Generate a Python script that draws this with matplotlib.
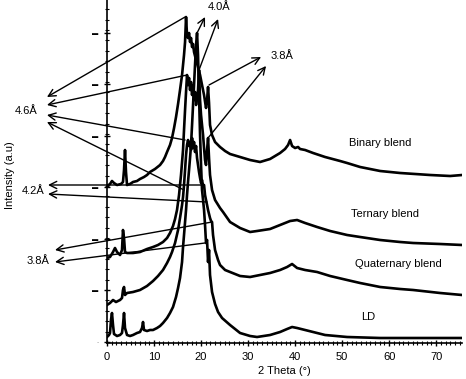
import matplotlib.pyplot as plt
from matplotlib.ticker import FixedLocator, MultipleLocator, AutoMinorLocator

plt.rcParams['font.family'] = ['Liberation Sans', 'DejaVu Sans']

# XRD traces: 2 theta (deg) and intensity (a.u., stacked)
binary_x = [0, 0.64, 1.06, 1.49, 2.13, 2.98, 3.40, 3.62, 3.83, 4.04, 4.26, 4.89, 5.53, 6.38, 7.02,
            7.87, 8.51, 9.15, 10.21, 11.28, 11.91, 12.34, 12.77, 13.40, 13.83, 14.26, 14.68, 15.11,
            15.53, 15.96, 16.17, 16.38, 16.60, 16.81, 17.02, 17.23, 17.45, 17.66, 17.87, 18.09,
            18.30, 18.51, 18.94, 19.36, 19.79, 20.21, 20.64, 21.06, 21.28, 21.49, 21.70, 21.91,
            22.34, 22.98, 24.04, 25.11, 26.17, 28.30, 30.43, 32.55, 34.68, 36.81, 37.87, 38.51,
            38.94, 39.36, 40.00, 40.64, 41.06, 42.13, 43.83, 46.38, 49.57, 51.06, 53.83, 58.09,
            62.34, 68.72, 72.98, 75.53]
binary_y = [157, 159, 162, 160, 158, 159, 161, 173, 193, 171, 158, 159, 161, 162, 164,
            166, 168, 171, 174, 178, 182, 186, 191, 198, 205, 215, 226, 239,
            253, 268, 278, 288, 301, 326, 308, 305, 310, 301, 305, 296,
            299, 291, 283, 276, 268, 258, 248, 235, 243, 256, 240, 218,
            208, 201, 196, 192, 189, 186, 183, 181, 184, 190, 194, 198,
            203, 197, 195, 196, 194, 193, 190, 186, 182, 180, 176, 172,
            170, 168, 167, 168]

ternary_x = [0, 0.64, 1.28, 1.70, 2.13, 2.77, 3.19, 3.40, 3.62, 3.83, 4.26, 5.53, 7.02, 8.51, 9.79,
             10.85, 11.91, 12.77, 13.40, 14.04, 14.47, 14.89, 15.32, 15.74, 16.17, 16.38, 16.60,
             16.81, 17.02, 17.23, 17.45, 17.66, 17.87, 18.09, 18.30, 18.51, 18.72, 18.94, 19.15,
             19.36, 19.57, 19.79, 20.00, 20.21, 20.43, 20.64, 20.85, 21.06, 21.28, 21.49, 21.70,
             21.91, 22.34, 22.98, 24.04, 24.68, 26.17, 28.30, 30.43, 31.91, 34.68, 36.81, 38.94,
             40.43, 42.13, 44.68, 47.45, 51.06, 53.83, 58.09, 62.34, 65.11, 70.85, 75.53]
ternary_y = [85, 86, 91, 95, 91, 88, 93, 113, 105, 91, 90, 90, 91, 94, 96,
             98, 101, 105, 110, 117, 124, 133, 148, 168, 193, 213, 233,
             251, 268, 258, 265, 253, 261, 248, 258, 243, 251, 238, 245,
             253, 273, 243, 228, 218, 208, 195, 183, 178, 193, 205, 185,
             168, 153, 143, 135, 131, 121, 115, 111, 112, 114, 118, 122,
             123, 120, 116, 112, 108, 106, 103, 101, 100, 99, 98]

quaternary_x = [0, 0.64, 1.28, 1.91, 2.77, 3.19, 3.40, 3.62, 3.83, 4.26, 5.53, 7.02, 8.51, 9.79,
                10.85, 11.91, 12.77, 13.40, 13.83, 14.47, 15.11, 15.53, 15.96, 16.17, 16.38,
                16.60, 16.81, 17.02, 17.23, 17.45, 17.66, 17.87, 18.09, 18.30, 18.51, 18.72,
                18.94, 19.15, 19.36, 19.57, 19.79, 20.00, 20.21, 20.43, 20.64, 20.85, 21.06,
                21.28, 21.49, 21.70, 21.91, 22.13, 22.34, 22.55, 22.98, 23.62, 24.04, 25.11,
                26.17, 28.30, 30.43, 32.55, 34.68, 36.81, 38.30, 39.36, 40.43, 42.13, 44.68,
                47.45, 51.06, 53.83, 58.09, 62.34, 65.11, 70.85, 75.53]
quaternary_y = [38, 40, 43, 41, 43, 45, 53, 56, 48, 50, 51, 53, 57, 62,
                67, 73, 80, 86, 91, 100, 113, 125, 138, 146, 158,
                173, 188, 198, 203, 197, 201, 193, 205, 195, 201, 191,
                197, 185, 178, 171, 165, 160, 163, 157, 158, 148, 143,
                138, 133, 129, 125, 122, 121, 108, 93, 83, 78, 73,
                71, 67, 66, 68, 70, 73, 76, 79, 75, 73, 71,
                67, 63, 60, 56, 54, 53, 50, 48]

ld_x = [0, 0.43, 0.64, 0.85, 1.06, 1.28, 1.49, 2.13, 2.77, 3.19, 3.40, 3.62, 3.83, 4.26, 4.89, 5.53,
        6.38, 7.02, 7.45, 7.66, 7.87, 8.51, 9.15, 9.79, 10.64, 11.28, 11.91, 12.77, 13.40, 14.04,
        14.68, 15.11, 15.53, 15.96, 16.17, 16.38, 16.60, 16.81, 17.02, 17.23, 17.45, 17.66, 17.87,
        18.09, 18.30, 18.51, 18.72, 18.94, 19.15, 19.36, 19.57, 19.79, 20.00, 20.21, 20.43, 20.64,
        20.85, 21.06, 21.28, 21.49, 21.70, 21.91, 22.34, 22.98, 23.62, 24.47, 26.17, 28.30, 30.43,
        31.91, 34.68, 36.81, 38.30, 39.36, 40.43, 42.13, 43.83, 46.38, 51.06, 58.09, 66.60, 75.53]
ld_y = [6, 8, 10, 23, 30, 18, 9, 7, 8, 10, 18, 30, 15, 8, 7, 8,
        10, 11, 15, 21, 13, 12, 13, 13, 15, 17, 20, 25, 30, 36,
        46, 55, 65, 81, 96, 108, 121, 133, 148, 161, 173, 185, 198,
        218, 238, 258, 278, 298, 310, 288, 248, 208, 178, 153, 143, 133,
        118, 100, 103, 81, 93, 68, 51, 39, 31, 25, 18, 10, 7,
        6, 8, 11, 14, 16, 15, 13, 11, 8, 6, 5, 5, 5]

curve_names = ['Binary blend', 'Ternary blend', 'Quaternary blend', 'LD']
name_pos = [(58.1, 200), (59.2, 129), (61.9, 79), (55.5, 26)]

# peak markers: (label, label position, [(peak point, arrow tip), ...])
peak_marks = [
    ('4.0Å', (23.8, 336), [((19.15, 310), (20.85, 326)), ((19.57, 273), (23.62, 324))]),
    ('3.8Å', (37.2, 287), [((21.70, 258), (32.77, 286)), ((21.49, 205), (33.83, 277))]),
    ('4.6Å', (-17.2, 232), [((16.60, 326), (-12.77, 246)), ((17.02, 268), (-12.77, 238)),
                            ((16.60, 203), (-12.77, 228)), ((16.38, 153), (-12.77, 221))]),
    ('4.2Å', (-15.7, 152), [((20.64, 158), (-12.55, 158)), ((21.28, 141), (-12.55, 149))]),
    ('3.8Å', (-14.7, 82), [((22.34, 121), (-11.06, 93)), ((20.85, 100), (-11.06, 81))]),
]

fig = plt.figure(figsize=(4.66, 3.79), dpi=100)
ax = fig.add_axes([107 / 466, 36 / 379, 355 / 466, 343 / 379])

for xs, ys in [(binary_x, binary_y), (ternary_x, ternary_y),
               (quaternary_x, quaternary_y), (ld_x, ld_y)]:
    ax.plot(xs, ys, color='black', lw=1.9, solid_joinstyle='round')

for name, (tx, ty) in zip(curve_names, name_pos):
    ax.text(tx, ty, name, fontsize=8, ha='center', va='center')

for label, (lx, ly), pairs in peak_marks:
    ax.text(lx, ly, label, fontsize=8, ha='center', va='center', clip_on=False)
    for tail, tip in pairs:
        ax.annotate('', xy=tip, xytext=tail, annotation_clip=False,
                    arrowprops=dict(arrowstyle='->', color='black', lw=1.0,
                                    mutation_scale=13, shrinkA=0, shrinkB=0))

ax.set_xlim(0, 75.5)
ax.set_ylim(0, 343)
ax.xaxis.set_major_locator(MultipleLocator(10))
ax.xaxis.set_minor_locator(MultipleLocator(1))
ax.yaxis.set_major_locator(FixedLocator([1, 53, 104, 156, 207, 259, 310]))
ax.yaxis.set_minor_locator(AutoMinorLocator(5))
ax.set_yticklabels(['·', '▬', '▬', '▬', '▬', '▬', '▬'], fontsize=4.5)
ax.tick_params(axis='x', which='major', direction='inout', length=5, width=1, labelsize=8, pad=4)
ax.tick_params(axis='x', which='minor', direction='inout', length=3, width=0.8)
ax.tick_params(axis='y', which='major', direction='inout', length=5, width=1, pad=4)
ax.tick_params(axis='y', which='minor', direction='inout', length=3, width=0.8)

for side in ['top', 'right']:
    ax.spines[side].set_visible(False)
ax.spines['left'].set_linewidth(1.2)
ax.spines['bottom'].set_linewidth(1.2)

ax.set_xlabel('2 Theta (°)', fontsize=8, labelpad=3)
ax.set_ylabel('Intensity (a.u)', fontsize=8, labelpad=0)
ax.yaxis.set_label_coords(-92 / 355, 168 / 343)

fig.savefig('out.png', dpi=100)
